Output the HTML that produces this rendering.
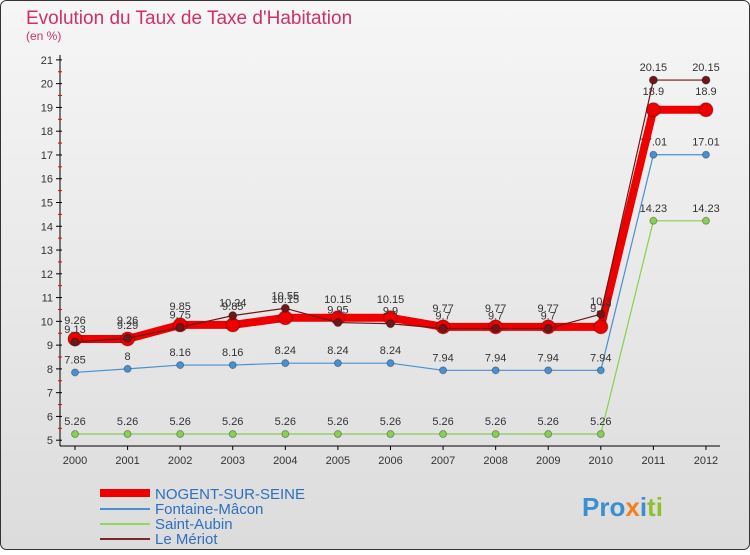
<!DOCTYPE html>
<html><head><meta charset="utf-8"><style>
body{margin:0;width:750px;height:550px;overflow:hidden;font-family:"Liberation Sans",sans-serif}
</style></head><body>
<svg width="750" height="550" xmlns="http://www.w3.org/2000/svg" id="svg">
<defs><linearGradient id="bg" x1="0" y1="0" x2="0" y2="1"><stop offset="0" stop-color="#f6f6f6"/><stop offset="1" stop-color="#dcdcdc"/></linearGradient></defs>
<rect x="0.5" y="0.5" width="749" height="549" rx="6" fill="url(#bg)" stroke="#333"/>
<text x="26" y="24" font-size="19" fill="#d0306a">Evolution du Taux de Taxe d'Habitation</text>
<text x="26" y="40" font-size="12" fill="#d0306a">(en %)</text>
<g id="axes"></g><g id="series"></g>
<g>
<line x1="100" y1="493" x2="150" y2="493" stroke="#e00" stroke-width="8"/>
<text x="155" y="499" font-size="15" fill="#2f6fc0">NOGENT-SUR-SEINE</text>
<line x1="100" y1="509" x2="150" y2="509" stroke="#4a90d0" stroke-width="2"/>
<text x="155" y="514" font-size="15" fill="#2f6fc0">Fontaine-Mâcon</text>
<line x1="100" y1="524" x2="150" y2="524" stroke="#90d860" stroke-width="2"/>
<text x="155" y="529" font-size="15" fill="#2f6fc0">Saint-Aubin</text>
<line x1="100" y1="539" x2="150" y2="539" stroke="#7a2a2a" stroke-width="2"/>
<text x="155" y="544" font-size="15" fill="#2f6fc0">Le Mériot</text>
</g>
<text x="582" y="516" font-size="26" font-weight="bold"><tspan fill="#3a8fd0">Pro</tspan><tspan fill="#f08020">x</tspan><tspan fill="#3a8fd0">i</tspan><tspan fill="#90c030">ti</tspan></text>
</svg>
<script>
const years=[2000,2001,2002,2003,2004,2005,2006,2007,2008,2009,2010,2011,2012];
const nogent=[9.26,9.26,9.85,9.85,10.15,10.15,10.15,9.77,9.77,9.77,9.77,18.9,18.9];
const fontaine=[7.85,8,8.16,8.16,8.24,8.24,8.24,7.94,7.94,7.94,7.94,17.01,17.01];
const saintAubin=[5.26,5.26,5.26,5.26,5.26,5.26,5.26,5.26,5.26,5.26,5.26,14.23,14.23];
const meriot=[9.13,9.29,9.75,10.24,10.55,9.95,9.9,9.7,9.7,9.7,10.3,20.15,20.15];
const yTicks=[5,6,7,8,9,10,11,12,13,14,15,16,17,18,19,20,21];
const NS="http://www.w3.org/2000/svg";
const X=i=>75+i*52.58, Y=v=>440.2-(v-5)*23.77;
function mk(p,t,a){const e=document.createElementNS(NS,t);for(const k in a)e.setAttribute(k,a[k]);p.appendChild(e);return e;}
const ax=document.getElementById('axes'), se=document.getElementById('series');
let l=mk(ax,'line',{x1:60,y1:55,x2:60,y2:446,stroke:'#000'});


l=mk(ax,'line',{x1:60,y1:446,x2:720,y2:446,stroke:'#000'});


yTicks.forEach(v=>{
 mk(ax,'line',{x1:56,y1:Y(v),x2:62,y2:Y(v),stroke:'#000'});
 if(v<21) mk(ax,'line',{x1:58,y1:Y(v+0.5),x2:62,y2:Y(v+0.5),stroke:'#e00'});
 const t=mk(ax,'text',{x:53,y:Y(v)+4,'font-size':11,'text-anchor':'end',fill:'#333'});t.textContent=v;
 
 
});
years.forEach((y,i)=>{
 mk(ax,'line',{x1:X(i),y1:446,x2:X(i),y2:450,stroke:'#000'});
 const t=mk(ax,'text',{x:X(i),y:464,'font-size':11,'text-anchor':'middle',fill:'#333'});t.textContent=y;
 
 
});
function draw(name,vals,color,w,r,dy){
 const g=mk(se,'g',{});
 
 
 mk(g,'polyline',{points:vals.map((v,i)=>X(i)+','+Y(v)).join(' '),fill:'none',stroke:color,'stroke-width':w,'stroke-linejoin':'round'});
 vals.forEach((v,i)=>{
  const c=mk(g,'circle',{cx:X(i),cy:Y(v),r:r,fill:color,stroke:'rgba(0,0,0,0.3)'});
  
  
  const t=mk(g,'text',{x:X(i),y:Y(v)+dy,'font-size':11,'text-anchor':'middle',fill:'#333'});t.textContent=v;
  
  
 });
}
draw('saint-aubin',saintAubin,'#88d050',1.2,3.5,-9);
draw('fontaine',fontaine,'#4a90d0',1.2,3.5,-9);
draw('nogent',nogent,'#ee0000',8,7,-15);
draw('le-meriot',meriot,'#6a1818',1.2,4,-9);
</script>
</body></html>
